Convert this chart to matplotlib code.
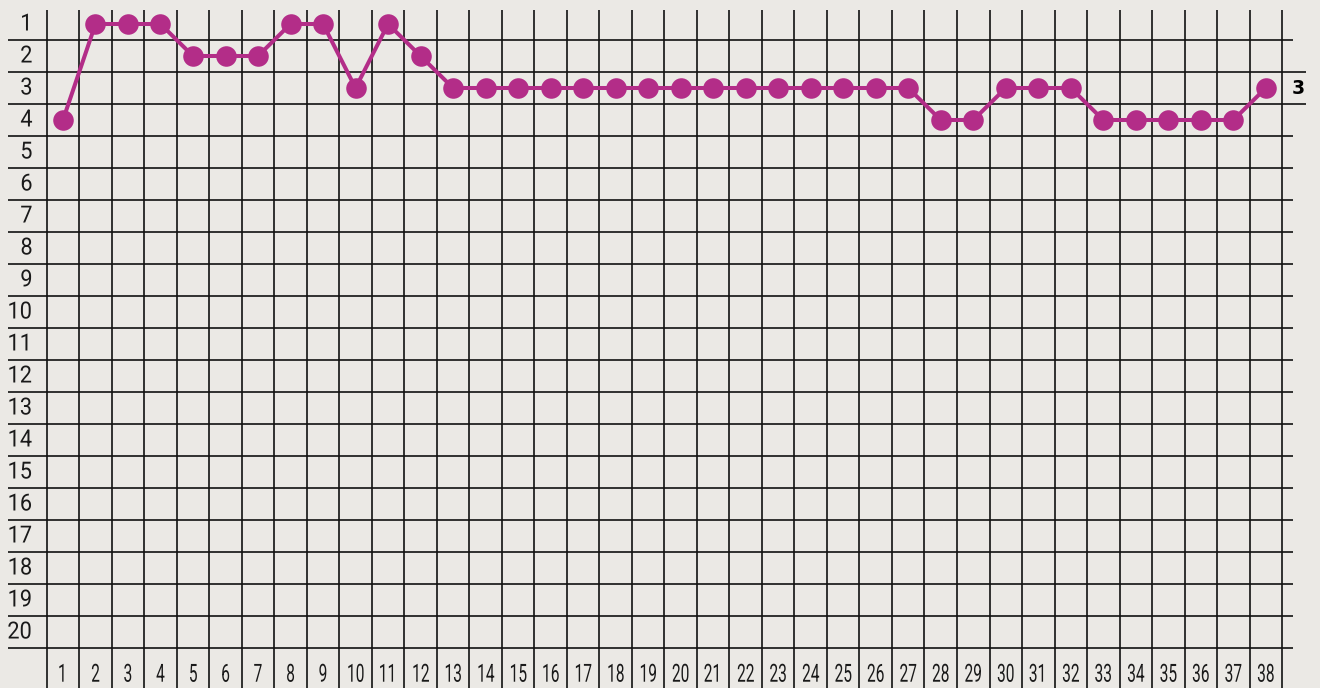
import numpy as np
import matplotlib
matplotlib.use("Agg")
import matplotlib.pyplot as plt
from matplotlib.patheffects import AbstractPathEffect
from matplotlib.transforms import Affine2D

matchdays = list(range(1, 39))
positions = [4, 1, 1, 1, 2, 2, 2, 1, 1, 3, 1, 2, 3, 3, 3, 3, 3, 3, 3, 3,
             3, 3, 3, 3, 3, 3, 3, 4, 4, 3, 3, 3, 4, 4, 4, 4, 4, 3]
ranks = list(range(1, 21))

bg = "#ebe9e5"
line_col = "#b32d88"
grid_col = "#111111"


class Narrow(AbstractPathEffect):
    # squeeze glyphs horizontally around their centre (condensed look)
    def __init__(self, sx):
        super().__init__()
        self.sx = sx

    def draw_path(self, renderer, gc, tpath, affine, rgbFace=None):
        ext = tpath.get_extents()
        cx = (ext.x0 + ext.x1) / 2
        t = Affine2D().translate(-cx, 0).scale(self.sx, 1).translate(cx, 0) + affine
        renderer.draw_path(gc, tpath, t, rgbFace)


fig = plt.figure(figsize=(13.2, 6.88), dpi=100, facecolor=bg)
ax = fig.add_axes([0, 0, 1, 1], facecolor=bg)

# pixel layout -> data limits (column width ~32.5px, row height 32px)
ax.set_xlim(-0.9365, 39.666)
ax.set_ylim(21.75, 0.25)
ax.axis("off")

# grid
ax.vlines(np.arange(0.5, 39.5, 1), 0.5625, 21.75, color=grid_col, lw=1.2, zorder=1)
for r in np.arange(1.5, 21.5, 1):
    right = 39.23 if r in (2.5, 3.5) else 38.84
    ax.hlines(r, -0.69, right, color=grid_col, lw=1.2, zorder=1)

# position line
ax.plot(matchdays, positions, color=line_col, lw=2.9, marker="o",
        markersize=14.8, markeredgewidth=0, zorder=3)

# labels
for r in ranks:
    ax.text(0.08, r, str(r), ha="right", va="center", fontsize=17,
            family=["Roboto", "DejaVu Sans"], color="#1a1a1a",
            path_effects=[Narrow(0.92)])
for m in matchdays:
    ax.text(m, 21.71, str(m), ha="center", va="bottom", fontsize=18,
            family=["Roboto", "DejaVu Sans"], color="#1a1a1a",
            path_effects=[Narrow(0.62)])

ax.text(38.99, positions[-1], str(positions[-1]), ha="center", va="center",
        fontsize=13.5, fontweight="bold", color="black")

fig.savefig("out.png", dpi=100, facecolor=bg)
